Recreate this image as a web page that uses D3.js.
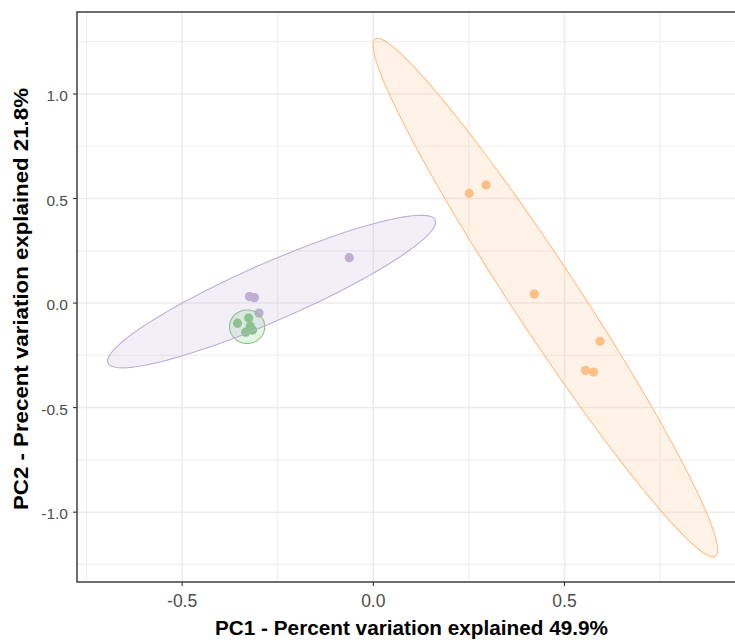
<!DOCTYPE html>
<html><head><meta charset="utf-8">
<script src="https://cdn.jsdelivr.net/npm/d3@7"></script>
<style>body{margin:0;background:#fff}</style>
</head><body><div id="chart"></div>
<script>
const groupNames = ["green", "purple", "orange"];
const groupColors = ["#7FC97F", "#BEAED4", "#FDC086"];

const greenX = [-0.355, -0.326, -0.322, -0.334, -0.316];
const greenY = [-0.096, -0.072, -0.110, -0.139, -0.129];
const purpleX = [-0.063, -0.324, -0.311, -0.299];
const purpleY = [0.217, 0.031, 0.026, -0.048];
const orangeX = [0.251, 0.295, 0.421, 0.593, 0.555, 0.576];
const orangeY = [0.525, 0.565, 0.043, -0.183, -0.322, -0.330];

// ellipses: center (cx, cy), semi-axis vectors (ax, ay) and (bx, by) in data units
const ellipseCX = [-0.330, -0.266, 0.450];
const ellipseCY = [-0.113, 0.055, 0.026];
const ellipseAX = [0.046, 0.428, 0.445];
const ellipseAY = [0.000, 0.342, -1.237];
const ellipseBX = [0.000, 0.030, 0.072];
const ellipseBY = [0.080, -0.127, 0.087];

const xTicks = [-0.5, 0.0, 0.5];
const yTicks = [-1.0, -0.5, 0.0, 0.5, 1.0];
const xMinor = [-0.75, -0.25, 0.25, 0.75];
const yMinor = [-1.25, -0.75, -0.25, 0.25, 0.75, 1.25];
const xTitle = "PC1 - Percent variation explained 49.9%";
const yTitle = "PC2 - Precent variation explained 21.8%";

const W = 735, H = 640;
const L = 77, R = 748, T = 12, B = 582;
const x = d3.scaleLinear().domain([-0.775, 0.98]).range([L, R]);
const y = d3.scaleLinear().domain([-1.334, 1.392]).range([B, T]);

const svg = d3.select("#chart").append("svg").attr("width", W).attr("height", H)
  .style("font-family", "Arial, 'Liberation Sans', sans-serif");

svg.append("defs").append("clipPath").attr("id", "clip")
  .append("rect").attr("x", L).attr("y", T).attr("width", R - L).attr("height", B - T);

const panel = svg.append("g").attr("clip-path", "url(#clip)");
panel.append("rect").attr("x", L).attr("y", T).attr("width", R - L).attr("height", B - T).attr("fill", "#fff");

// grid
panel.selectAll(".xminor").data(xMinor).join("line")
  .attr("x1", d => x(d)).attr("x2", d => x(d)).attr("y1", T).attr("y2", B)
  .attr("stroke", "#EFEFEF").attr("stroke-width", 1.2);
panel.selectAll(".yminor").data(yMinor).join("line")
  .attr("y1", d => y(d)).attr("y2", d => y(d)).attr("x1", L).attr("x2", R)
  .attr("stroke", "#EFEFEF").attr("stroke-width", 1.2);
panel.selectAll(".xmajor").data(xTicks).join("line")
  .attr("x1", d => x(d)).attr("x2", d => x(d)).attr("y1", T).attr("y2", B)
  .attr("stroke", "#EBEBEB").attr("stroke-width", 1.5);
panel.selectAll(".ymajor").data(yTicks).join("line")
  .attr("y1", d => y(d)).attr("y2", d => y(d)).attr("x1", L).attr("x2", R)
  .attr("stroke", "#EBEBEB").attr("stroke-width", 1.5);

// points
const groups = [
  {xs: greenX, ys: greenY},
  {xs: purpleX, ys: purpleY},
  {xs: orangeX, ys: orangeY}
];
groups.forEach((g, gi) => {
  panel.append("g").selectAll("circle").data(g.xs.map((v, i) => [v, g.ys[i]])).join("circle")
    .attr("cx", d => x(d[0])).attr("cy", d => y(d[1])).attr("r", 4.6)
    .attr("fill", groupColors[gi]);
});

// ellipses
const thetas = d3.range(0, 361, 3).map(d => d * Math.PI / 180);
const line = d3.line().x(d => x(d[0])).y(d => y(d[1]));
ellipseCX.forEach((cx, i) => {
  const pts = thetas.map(t => [
    cx + ellipseAX[i] * Math.cos(t) + ellipseBX[i] * Math.sin(t),
    ellipseCY[i] + ellipseAY[i] * Math.cos(t) + ellipseBY[i] * Math.sin(t)
  ]);
  panel.append("path").attr("d", line(pts) + "Z")
    .attr("fill", groupColors[i]).attr("fill-opacity", 0.2)
    .attr("stroke", groupColors[i]).attr("stroke-width", 1.1);
});

// border
svg.append("rect").attr("x", L).attr("y", T).attr("width", R - L).attr("height", B - T)
  .attr("fill", "none").attr("stroke", "#333").attr("stroke-width", 1.4);

// axes ticks and labels
const fmt = d => d3.format(".1f")(d).replace("\u2212", "-");
const xa = svg.append("g");
xa.selectAll("line").data(xTicks).join("line")
  .attr("x1", d => x(d)).attr("x2", d => x(d)).attr("y1", B).attr("y2", B + 4)
  .attr("stroke", "#333").attr("stroke-width", 1.1);
xa.selectAll("text").data(xTicks).join("text")
  .attr("x", d => x(d)).attr("y", 606.5).attr("text-anchor", "middle")
  .attr("font-size", 17.5).attr("fill", "#4D4D4D").text(fmt);

const ya = svg.append("g");
ya.selectAll("line").data(yTicks).join("line")
  .attr("x1", L - 4).attr("x2", L).attr("y1", d => y(d)).attr("y2", d => y(d))
  .attr("stroke", "#333").attr("stroke-width", 1.1);
ya.selectAll("text").data(yTicks).join("text")
  .attr("x", L - 9).attr("y", d => y(d) + 7).attr("text-anchor", "end")
  .attr("font-size", 15.5).attr("fill", "#4D4D4D").text(fmt);

svg.append("text").attr("x", 411.5).attr("y", 635).attr("text-anchor", "middle")
  .attr("font-size", 20.5).attr("font-weight", "bold").attr("fill", "#000")
  .attr("textLength", 393).attr("lengthAdjust", "spacingAndGlyphs").text(xTitle);
svg.append("text").attr("transform", `translate(28,299) rotate(-90)`).attr("text-anchor", "middle")
  .attr("font-size", 19.5).attr("font-weight", "bold").attr("fill", "#000")
  .attr("textLength", 422).attr("lengthAdjust", "spacingAndGlyphs").text(yTitle);
</script></body></html>
